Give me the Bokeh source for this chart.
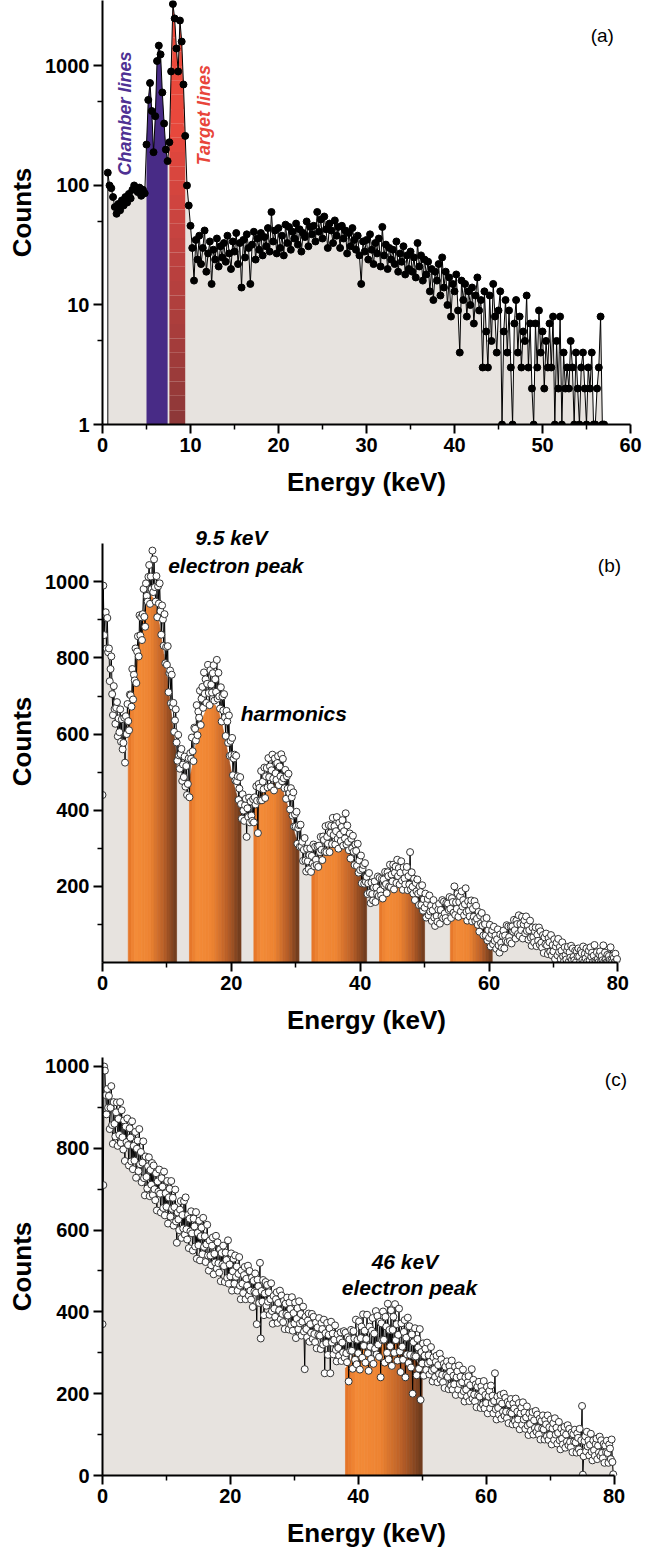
import numpy as np
from bokeh.plotting import figure
from bokeh.layouts import column
from bokeh.models import Range1d, FixedTicker, Label, NumeralTickFormatter
from bokeh.embed import file_html
from bokeh.resources import INLINE

FONT = "Liberation Sans"
GRAY = "#e7e3df"

# ---------------- Panel (a): log spectrum, channels from 0.6 keV in 0.2 keV steps
a_start, a_step = 0.6, 0.2
counts_a = [
    128, 100,
    95, 80, 66, 58, 70,
    62, 75, 68, 80, 72,
    85, 78, 92, 100, 95,
    88, 96, 82, 92, 86,
    220, 520, 720, 420, 190,
    380, 1100, 1480, 1250, 600,
    330, 200, 160, 230, 900,
    3300, 2500, 1400, 900, 2400,
    1600, 700, 260, 100, 68,
    46, 30, 16, 35, 24,
    38, 22, 30, 42, 19,
    27, 34, 15, 29, 24,
    36, 21, 31, 25, 33,
    23, 38, 27, 20, 34,
    28, 40, 22, 33, 14,
    35, 25, 39, 30, 15,
    32, 41, 24, 36, 29,
    40, 26, 37, 31, 44,
    28, 60, 34, 42, 27,
    44, 30, 38, 26, 47,
    33, 45, 29, 41, 36,
    48, 32, 43, 28, 40,
    37, 50, 31, 45, 39,
    46, 34, 60, 41, 52,
    36, 55, 43, 30, 48,
    42, 33, 51, 38, 45,
    30, 46, 36, 42, 27,
    40, 31, 44, 35, 29,
    38, 26, 15, 34, 28,
    35, 24, 39, 29, 22,
    33, 27, 36, 21, 45,
    26, 32, 20, 30, 24,
    29, 22, 34, 19, 27,
    23, 31, 18, 26, 20,
    28, 19, 25, 17, 33,
    21, 26, 16, 24, 18,
    23, 13, 20, 11, 19,
    16, 22, 12, 25, 14,
    19, 10, 17, 8, 15,
    13, 18, 9, 4, 16,
    11, 15, 8, 13, 10,
    14, 7, 12, 17, 9,
    11, 3, 13, 6, 3,
    12, 5, 15, 8, 4,
    9, 13, 1, 6, 11,
    4, 9, 3, 1, 7,
    11, 4, 8, 3, 6,
    5, 12, 3, 7, 2,
    1, 7, 3, 9, 4,
    6, 2, 5, 3, 7,
    3, 8, 1, 5, 2,
    8, 1, 4, 2, 3,
    2, 5, 3, 1, 4,
    2, 1, 3, 4, 2,
    1, 3, 2, 4, 1,
    1, 2, 3, 8, 1,
    1,
]
chamber_lines = (5.0, 7.4)
target_lines = (7.6, 9.4)
a_ticks = [1, 10, 100, 1000]
a_minor = [5, 50, 500]
a_xticks = [0, 10, 20, 30, 40, 50, 60]
a_xminor = [5, 15, 25, 35, 45, 55]

# ---------------- Panel (b): 9.5 keV electron peak + harmonics (0.125 keV channels)
b_step = 0.125
counts_b = [
    440, 990, 860, 915, 920, 825, 905, 815,
    825, 739, 771, 804, 705, 650, 726, 666,
    627, 669, 684, 594, 641, 605, 665, 580,
    639, 560, 577, 643, 525, 647, 600, 679,
    634, 610, 704, 702, 672, 771, 691, 756,
    741, 825, 734, 817, 857, 804, 912, 859,
    907, 847, 915, 981, 908, 882, 996, 963,
    948, 1013, 1044, 942, 1014, 981, 1082, 973,
    1059, 986, 948, 1015, 907, 988, 943, 996,
    923, 861, 938, 901, 832, 915, 786, 829,
    782, 831, 710, 760, 767, 681, 756, 672,
    682, 606, 636, 665, 578, 530, 598, 544,
    509, 547, 561, 477, 520, 487, 541, 462,
    516, 440, 469, 536, 434, 550, 535, 591,
    555, 529, 617, 614, 583, 676, 597, 659,
    643, 714, 624, 693, 724, 669, 762, 706,
    744, 682, 732, 782, 708, 676, 768, 730,
    709, 760, 781, 688, 744, 711, 795, 693,
    761, 699, 667, 723, 633, 699, 662, 705,
    644, 595, 661, 633, 577, 649, 543, 582,
    545, 590, 492, 536, 546, 478, 543, 476,
    489, 427, 457, 487, 416, 378, 442, 399,
    372, 413, 430, 330, 405, 382, 433, 368,
    423, 386, 372, 429, 368, 434, 415, 463,
    425, 340, 469, 459, 426, 503, 426, 475,
    455, 512, 432, 489, 511, 460, 537, 487,
    515, 462, 505, 546, 483, 452, 536, 497,
    480, 524, 542, 466, 515, 489, 547, 476,
    535, 484, 458, 506, 430, 489, 457, 496,
    445, 402, 458, 434, 386, 447, 357, 389,
    357, 396, 312, 353, 361, 304, 362, 305,
    317, 267, 296, 327, 268, 239, 299, 266,
    245, 282, 300, 238, 280, 260, 310, 253,
    304, 270, 256, 305, 251, 307, 290, 330,
    296, 269, 331, 322, 291, 358, 290, 330,
    312, 361, 290, 340, 359, 311, 380, 335,
    358, 310, 345, 382, 325, 299, 367, 336,
    319, 356, 374, 307, 345, 326, 392, 310,
    360, 317, 295, 339, 273, 325, 300, 333,
    291, 256, 310, 293, 254, 312, 236, 268,
    243, 281, 208, 246, 256, 207, 261, 212,
    225, 180, 208, 235, 183, 156, 210, 180,
    163, 197, 213, 159, 197, 180, 226, 175,
    222, 189, 176, 220, 168, 218, 202, 238,
    206, 182, 237, 227, 200, 257, 198, 231,
    213, 257, 192, 236, 252, 209, 270, 227,
    248, 205, 236, 266, 215, 191, 250, 221,
    205, 238, 251, 190, 227, 205, 290, 192,
    237, 199, 181, 220, 164, 209, 187, 218,
    181, 151, 200, 185, 151, 203, 136, 166,
    144, 181, 118, 155, 167, 124, 176, 134,
    149, 109, 137, 164, 118, 96, 148, 122,
    107, 139, 154, 102, 138, 121, 164, 116,
    160, 129, 117, 157, 108, 155, 138, 172,
    141, 117, 169, 159, 131, 200, 125, 158,
    141, 181, 120, 159, 174, 134, 187, 147,
    164, 124, 153, 195, 133, 110, 161, 136,
    121, 151, 163, 108, 141, 120, 161, 109,
    149, 115, 99, 133, 81, 123, 103, 130,
    97, 71, 114, 101, 71, 117, 58, 85,
    65, 99, 42, 75, 85, 48, 94, 57,
    71, 36, 61, 87, 45, 26, 74, 52,
    39, 70, 84, 37, 71, 57, 98, 54,
    95, 67, 56, 95, 50, 95, 81, 112,
    85, 63, 110, 101, 75, 124, 70, 101,
    85, 120, 63, 100, 111, 77, 121, 83,
    98, 60, 85, 110, 65, 44, 92, 67,
    53, 81, 92, 43, 73, 57, 92, 47,
    82, 52, 39, 72, 25, 66, 48, 76,
    45, 22, 64, 53, 28, 72, 19, 46,
    29, 61, 9, 42, 52, 19, 62, 28,
    41, 9, 31, 53, 16, 2, 40, 19,
    8, 31, 41, 2, 27, 13, 44, 7,
    37, 15, 6, 31, 1, 29, 16, 37,
    16, 1, 32, 25, 6, 42, 1, 23,
    11, 37, 2, 22, 31, 5, 40, 15,
    26, 1, 18, 46, 5, 2, 27, 9,
    1, 21, 29, 2, 17, 6, 45, 2,
    26, 8, 1, 20, 2, 17, 7, 40,
    6, 1, 18, 12, 1, 23, 2, 9,
]
env_step = 0.5
fill_b = [
    900, 860, 780, 720, 650, 610, 580, 570, 650, 700,
    760, 820, 870, 920, 950, 965, 955, 920, 870, 810,
    750, 680, 610, 545, 500, 470, 455, 480, 520, 570,
    610, 640, 660, 675, 680, 675, 660, 630, 590, 545,
    500, 460, 430, 410, 390, 380, 385, 405, 420, 440,
    450, 460, 468, 472, 470, 465, 450, 425, 395, 360,
    330, 300, 275, 260, 250, 255, 262, 272, 282, 292,
    300, 306, 310, 310, 308, 304, 295, 282, 268, 252,
    236, 220, 204, 190, 180, 172, 175, 180, 185, 190,
    194, 197, 198, 198, 196, 192, 186, 180, 172, 165,
    158, 150, 140, 132, 125, 118, 112, 110, 112, 120,
    126, 131, 134, 136, 136, 132, 126, 116, 104, 92,
    80, 72, 65, 60, 56, 56, 58, 62, 66, 68,
    68, 66, 62, 58, 54, 50, 46, 42, 38, 34,
    30, 27, 24, 22, 20, 18, 16, 15, 14, 13,
    12, 11, 10, 9, 8, 7, 6, 5, 4, 2,
    0,
]
peaks_b = [(4.0, 11.5), (13.5, 21.5), (23.5, 30.5), (32.5, 41.0), (43.0, 50.0), (54.0, 60.5)]
b_yticks = [200, 400, 600, 800, 1000]
b_yminor = [100, 300, 500, 700, 900]
lin_xticks = [0, 20, 40, 60, 80]
lin_xminor = [10, 30, 50, 70]

# ---------------- Panel (c): 46 keV electron peak (0.125 keV channels)
c_step = 0.125
counts_c = [
    370, 710, 1000, 990, 930, 883, 945, 899,
    928, 847, 899, 952, 857, 811, 913, 860,
    829, 888, 912, 806, 872, 833, 913, 813,
    893, 827, 797, 868, 769, 853, 815, 873,
    808, 758, 849, 826, 768, 866, 749, 806,
    770, 840, 728, 799, 819, 744, 847, 761,
    791, 717, 765, 817, 727, 685, 780, 730,
    702, 756, 778, 683, 747, 711, 764, 686,
    758, 700, 673, 739, 648, 719, 694, 748,
    689, 643, 727, 706, 654, 743, 636, 690,
    657, 720, 616, 680, 701, 633, 720, 652,
    679, 611, 656, 699, 621, 569, 643, 626,
    600, 650, 671, 581, 637, 604, 671, 589,
    680, 602, 577, 637, 556, 628, 597, 646,
    592, 550, 628, 609, 560, 644, 530, 593,
    563, 623, 526, 585, 606, 541, 630, 559,
    585, 522, 565, 613, 538, 501, 574, 538,
    514, 562, 582, 492, 542, 521, 586, 506,
    570, 519, 496, 553, 475, 544, 516, 562,
    512, 473, 545, 527, 483, 575, 469, 516,
    487, 543, 452, 499, 530, 469, 538, 486,
    511, 452, 493, 534, 464, 431, 501, 469,
    446, 490, 510, 431, 481, 464, 513, 440,
    500, 452, 430, 484, 412, 476, 450, 494,
    447, 370, 479, 463, 422, 520, 335, 451,
    425, 478, 392, 445, 473, 415, 466, 425,
    448, 393, 431, 470, 402, 371, 439, 408,
    388, 431, 448, 373, 422, 404, 452, 382,
    440, 395, 375, 427, 358, 420, 395, 435,
    391, 357, 423, 407, 368, 436, 354, 397,
    372, 423, 336, 383, 409, 358, 426, 372,
    395, 342, 376, 413, 352, 260, 388, 358,
    338, 379, 396, 327, 370, 349, 395, 334,
    388, 346, 326, 374, 311, 362, 344, 385,
    342, 309, 373, 358, 320, 381, 250, 348,
    324, 373, 295, 344, 360, 250, 376, 325,
    347, 296, 332, 367, 307, 279, 345, 312,
    293, 333, 350, 280, 325, 301, 353, 288,
    349, 299, 277, 338, 230, 333, 305, 356,
    305, 261, 353, 335, 283, 381, 272, 332,
    299, 377, 259, 336, 364, 288, 394, 317,
    354, 276, 334, 393, 299, 256, 364, 315,
    285, 354, 385, 273, 347, 310, 402, 296,
    390, 320, 290, 376, 240, 372, 331, 401,
    332, 276, 388, 364, 300, 420, 284, 356,
    316, 404, 268, 356, 388, 300, 419, 331,
    370, 281, 344, 408, 303, 253, 372, 315,
    283, 351, 380, 240, 337, 296, 386, 275,
    365, 295, 264, 345, 200, 326, 292, 360,
    291, 245, 334, 313, 261, 358, 185, 302,
    274, 323, 244, 293, 310, 258, 325, 274,
    294, 247, 278, 314, 256, 230, 289, 260,
    241, 278, 293, 228, 270, 248, 298, 235,
    284, 246, 228, 273, 214, 266, 245, 279,
    241, 211, 268, 254, 220, 281, 210, 244,
    223, 266, 197, 240, 255, 210, 269, 224,
    242, 197, 228, 259, 206, 181, 240, 210,
    193, 228, 243, 182, 221, 200, 260, 188,
    234, 198, 181, 223, 167, 217, 196, 229,
    193, 165, 218, 206, 173, 231, 164, 197,
    177, 217, 152, 193, 207, 164, 220, 177,
    195, 152, 182, 250, 162, 137, 193, 165,
    149, 182, 197, 139, 176, 156, 200, 146,
    190, 156, 140, 180, 128, 174, 154, 187,
    152, 125, 176, 164, 133, 188, 124, 156,
    137, 177, 113, 152, 166, 124, 179, 137,
    154, 114, 142, 169, 122, 99, 152, 126,
    110, 142, 155, 100, 135, 116, 158, 107,
    149, 116, 100, 139, 88, 133, 115, 147,
    113, 88, 136, 125, 96, 147, 87, 118,
    99, 137, 76, 115, 128, 87, 140, 100,
    117, 78, 104, 131, 86, 64, 115, 90,
    76, 105, 119, 68, 100, 83, 123, 74,
    114, 82, 69, 105, 57, 101, 83, 112,
    81, 56, 103, 92, 64, 114, 56, 86,
    170, 2, 47, 84, 96, 59, 107, 71,
    86, 49, 75, 102, 58, 37, 86, 62,
    48, 77, 90, 40, 73, 56, 95, 48,
    86, 55, 42, 77, 31, 73, 57, 85,
    55, 31, 76, 66, 40, 88, 33, 3,
]
fill_c = [
    900, 880, 870, 858, 845, 832, 820, 806, 792, 778,
    765, 752, 740, 727, 715, 702, 690, 680, 670, 660,
    650, 640, 630, 620, 610, 600, 590, 580, 572, 563,
    555, 546, 538, 530, 522, 514, 507, 500, 493, 486,
    479, 472, 466, 459, 453, 446, 440, 434, 428, 422,
    416, 410, 404, 398, 393, 388, 382, 377, 372, 367,
    362, 357, 352, 347, 342, 337, 332, 328, 323, 319,
    314, 310, 306, 302, 298, 294, 262, 272, 288, 298,
    305, 312, 314, 300, 288, 295, 308, 320, 325, 328,
    320, 325, 330, 322, 312, 306, 298, 290, 280, 272,
    265, 258, 252, 246, 240, 234, 228, 222, 216, 210,
    205, 199, 193, 187, 181, 176, 170, 165, 160, 155,
    150, 146, 142, 138, 134, 130, 126, 122, 118, 115,
    112, 108, 105, 102, 99, 96, 93, 90, 87, 84,
    81, 78, 76, 73, 71, 68, 66, 64, 62, 60,
    58, 56, 54, 52, 50, 48, 46, 44, 42, 40,
    38,
]
peaks_c = [(38.0, 50.0)]
c_yticks = [0, 200, 400, 600, 800, 1000]
c_yminor = [100, 300, 500, 700, 900]

# ---------------- helpers
def hex2rgb(h):
    return tuple(int(h[i:i + 2], 16) for i in (1, 3, 5))


def lerp_color(stops, t):
    t = min(max(t, 0.0), 1.0)
    for (p0, c0), (p1, c1) in zip(stops[:-1], stops[1:]):
        if t <= p1:
            f = (t - p0) / (p1 - p0) if p1 > p0 else 0.0
            a, b = hex2rgb(c0), hex2rgb(c1)
            return "#%02x%02x%02x" % tuple(int(round(a[k] + (b[k] - a[k]) * f)) for k in range(3))
    return stops[-1][1]


ORANGE = [(0.0, "#e37226"), (0.15, "#f38b38"), (0.45, "#ee8432"), (0.75, "#b65d27"), (1.0, "#6a391d")]
RED = [(0.0, "#8e3838"), (0.45, "#c64340"), (0.7, "#e8483c"), (1.0, "#f04c3c")]
PURPLE = "#482b86"


def style_axes(p, xticks, xminor, yticks, yminor, xbounds, ybounds):
    p.xaxis.ticker = FixedTicker(ticks=xticks, minor_ticks=xminor)
    p.yaxis.ticker = FixedTicker(ticks=yticks, minor_ticks=yminor)
    p.xaxis.bounds = xbounds
    p.yaxis.bounds = ybounds
    p.xgrid.visible = False
    p.ygrid.visible = False
    p.outline_line_color = None
    for ax in (p.xaxis[0], p.yaxis[0]):
        ax.axis_line_width = 2
        ax.major_tick_line_width = 2
        ax.minor_tick_line_width = 1.5
        ax.major_tick_in = 0
        ax.major_tick_out = 9
        ax.minor_tick_in = 0
        ax.minor_tick_out = 5
        ax.major_label_text_font = FONT
        ax.major_label_text_font_style = "bold"
        ax.major_label_text_font_size = "20px"
        ax.major_label_text_color = "black"
        ax.axis_label_text_font = FONT
        ax.axis_label_text_font_style = "bold"
        ax.axis_label_text_font_size = "26px"
        ax.axis_label_text_color = "black"
    p.xaxis.axis_label = "Energy (keV)"
    p.yaxis.axis_label = "Counts"
    p.xaxis.major_label_standoff = 4
    p.xaxis.axis_label_standoff = 12
    p.yaxis.major_label_standoff = 4
    p.yaxis.axis_label_standoff = 5


def add_label(p, x, y, text, size, style="bold italic", color="black", angle=0.0):
    p.add_layout(Label(x=x, y=y, text=text, text_font=FONT, text_font_size=size,
                       text_font_style=style, text_color=color, angle=angle,
                       text_align="center", text_baseline="middle"))


def gradient_fill(p, x, env, regions):
    xs, ys, cols = [], [], []
    for lo, hi in regions:
        idx = np.where((x >= lo - 1e-9) & (x <= hi + 1e-9))[0]
        for i in idx[:-1]:
            x0, x1 = x[i], x[i + 1]
            t = ((x0 + x1) / 2 - lo) / (hi - lo)
            xs.append([x0, x1, x1, x0])
            ys.append([0, 0, env[i + 1], env[i]])
            cols.append(lerp_color(ORANGE, t))
    p.patches(xs, ys, fill_color=cols, line_color=cols, line_width=0.7)


# ---------------- Figure (a)
energy_a = np.round(a_start + a_step * np.arange(len(counts_a)), 2)
ya = np.array(counts_a, dtype=float)

pa = figure(width=645, height=507, y_axis_type="log", x_range=Range1d(0, 60),
            y_range=Range1d(1, 3530), output_backend="svg", toolbar_location=None,
            min_border_left=102, min_border_right=15, min_border_top=0, min_border_bottom=83)
pa.varea(x=energy_a, y1=1, y2=ya, fill_color=GRAY)
m = (energy_a >= chamber_lines[0] - 1e-9) & (energy_a <= chamber_lines[1] + 1e-9)
pa.varea(x=energy_a[m], y1=1, y2=ya[m], fill_color=PURPLE)
m = (energy_a >= target_lines[0] - 1e-9) & (energy_a <= target_lines[1] + 1e-9)
xr, yr = energy_a[m], ya[m]
levels = np.logspace(0, 3.6, 31)
for k in range(30):
    lo, hi = levels[k], levels[k + 1]
    pa.varea(x=xr, y1=np.minimum(yr, lo), y2=np.minimum(yr, hi),
             fill_color=lerp_color(RED, k / 29))
pa.segment(x0=[energy_a[0]], y0=[1], x1=[energy_a[0]], y1=[ya[0]],
           line_color="#333333", line_width=1.2)
pa.line(energy_a, ya, line_color="black", line_width=1)
pa.scatter(energy_a, ya, size=7, fill_color="black", line_color="black")
style_axes(pa, a_xticks, a_xminor, a_ticks, a_minor, (0, 60), (1, 3530))
pa.yaxis.formatter = NumeralTickFormatter(format="0")
add_label(pa, 56.8, 1800, "(a)", "19px", style="normal")
add_label(pa, 2.6, 400, "Chamber lines", "18px", color="#4f3193", angle=np.pi / 2)
add_label(pa, 11.5, 388, "Target lines", "18px", color="#e8453a", angle=np.pi / 2)

# ---------------- Figure (b)
energy_b = b_step * np.arange(len(counts_b))
env_x_b = env_step * np.arange(len(fill_b))
pb = figure(width=645, height=530, x_range=Range1d(0, 542 / (529 / 80)),
            y_range=Range1d(0, 447 / 0.385), output_backend="svg", toolbar_location=None,
            min_border_left=99, min_border_right=4, min_border_top=13, min_border_bottom=70)
pb.varea(x=env_x_b, y1=0, y2=fill_b, fill_color=GRAY)
gradient_fill(pb, env_x_b, fill_b, peaks_b)
pb.line(energy_b, counts_b, line_color="black", line_width=1)
pb.scatter(energy_b, counts_b, size=7, fill_color="white", line_color="#333333", line_width=1)
style_axes(pb, lin_xticks, lin_xminor, b_yticks, b_yminor, (0, 80), (0, 1100))
add_label(pb, 20.0, 1117, "9.5 keV", "21px")
add_label(pb, 20.7, 1044, "electron peak", "21px")
add_label(pb, 29.7, 655, "harmonics", "21px")
add_label(pb, 78.7, 1044, "(b)", "19px", style="normal")

# ---------------- Figure (c)
energy_c = c_step * np.arange(len(counts_c))
env_x_c = env_step * np.arange(len(fill_c))
pc = figure(width=645, height=513, x_range=Range1d(0, 545 / 6.6), y_range=Range1d(0, 1022),
            output_backend="svg", toolbar_location=None,
            min_border_left=97, min_border_right=3, min_border_top=20, min_border_bottom=68)
pc.varea(x=env_x_c, y1=0, y2=fill_c, fill_color=GRAY)
gradient_fill(pc, env_x_c, fill_c, peaks_c)
pc.line(energy_c, counts_c, line_color="black", line_width=1)
pc.scatter(energy_c, counts_c, size=7, fill_color="white", line_color="#333333", line_width=1)
style_axes(pc, lin_xticks, lin_xminor, c_yticks, c_yminor, (0, 80), (0, 1022))
add_label(pc, 80.3, 969, "(c)", "19px", style="normal")
add_label(pc, 47.3, 524, "46 keV", "21px")
add_label(pc, 48.0, 459, "electron peak", "21px")

layout = column(pa, pb, pc)
open("out.html", "w").write(file_html(layout, INLINE))
